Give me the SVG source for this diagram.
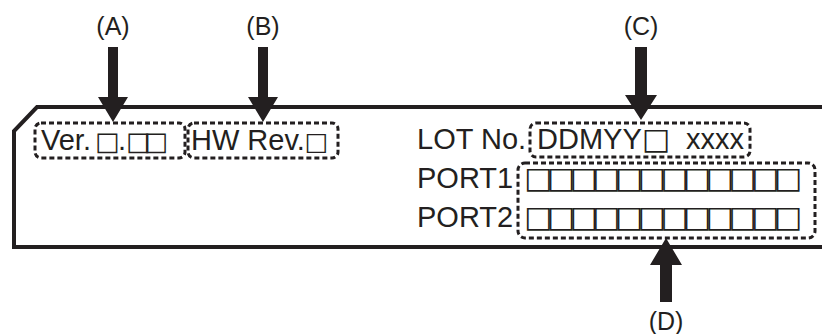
<svg xmlns="http://www.w3.org/2000/svg" width="822" height="334" viewBox="0 0 822 334">
<style>
.t{font-family:"Liberation Sans",Arial,sans-serif;font-size:29px;fill:#231f20}
.lbl{font-family:"Liberation Sans",Arial,sans-serif;font-size:25px;fill:#231f20;text-anchor:middle}
.sq{font-family:"DejaVu Sans",sans-serif;fill:#231f20}
.box{fill:none;stroke:#231f20;stroke-width:3;stroke-dasharray:5 3}
.arr{fill:#231f20;stroke:none}
.outline{fill:none;stroke:#231f20;stroke-width:4;stroke-linejoin:miter}
</style>
<rect width="822" height="334" fill="#ffffff"/>
<g id="panel">
<path class="outline" d="M822,107 H37 L14,131 V247 H822"/>
</g>
<g id="nodeA">
<rect class="box" x="35" y="123" width="150" height="35" rx="6"/>
<text class="t" x="41" y="150">Ver.<tspan class="sq" x="95" font-size="26">□</tspan><tspan x="118">.</tspan><tspan class="sq" x="126" font-size="26" textLength="42" lengthAdjust="spacing">□□</tspan></text>
</g>
<g id="nodeB">
<rect class="box" x="188" y="123" width="150" height="35" rx="6"/>
<text class="t" x="191" y="150">HW Rev.<tspan class="sq" font-size="25">□</tspan></text>
</g>
<g id="lot">
<text class="t" x="417" y="149">LOT No.</text>
</g>
<g id="nodeC">
<rect class="box" x="530" y="123" width="220" height="34" rx="6"/>
<text class="t" x="537" y="149">DDMYY<tspan class="sq" font-size="30">□</tspan> <tspan x="686">xxxx</tspan></text>
</g>
<g id="ports">
<text class="t" x="417" y="188">PORT1</text>
<text class="t" x="417" y="227">PORT2</text>
</g>
<g id="nodeD">
<rect class="box" x="518" y="163" width="297" height="75" rx="7"/>
<text class="sq" x="524" y="188" font-size="30" textLength="278" lengthAdjust="spacing">□□□□□□□□□□□□</text>
<text class="sq" x="524" y="227" font-size="30" textLength="278" lengthAdjust="spacing">□□□□□□□□□□□□</text>
</g>
<g id="labels">
<text class="lbl" x="113" y="35">(A)</text>
<text class="lbl" x="263" y="35">(B)</text>
<text class="lbl" x="641" y="35">(C)</text>
<text class="lbl" x="666" y="330">(D)</text>
</g>
<g id="connectors">
<path class="arr" d="M108,47 H118 V97 H128 L113,122 L98,97 H108 Z"/>
<path class="arr" d="M258,47 H268 V97 H278 L263,122 L248,97 H258 Z"/>
<path class="arr" d="M635,47 H647 V95 H657 L641,120 L625,95 H635 Z"/>
<path class="arr" d="M660,302 H672 V265 H682 L666,238 L650,265 H660 Z"/>
</g>
</svg>
